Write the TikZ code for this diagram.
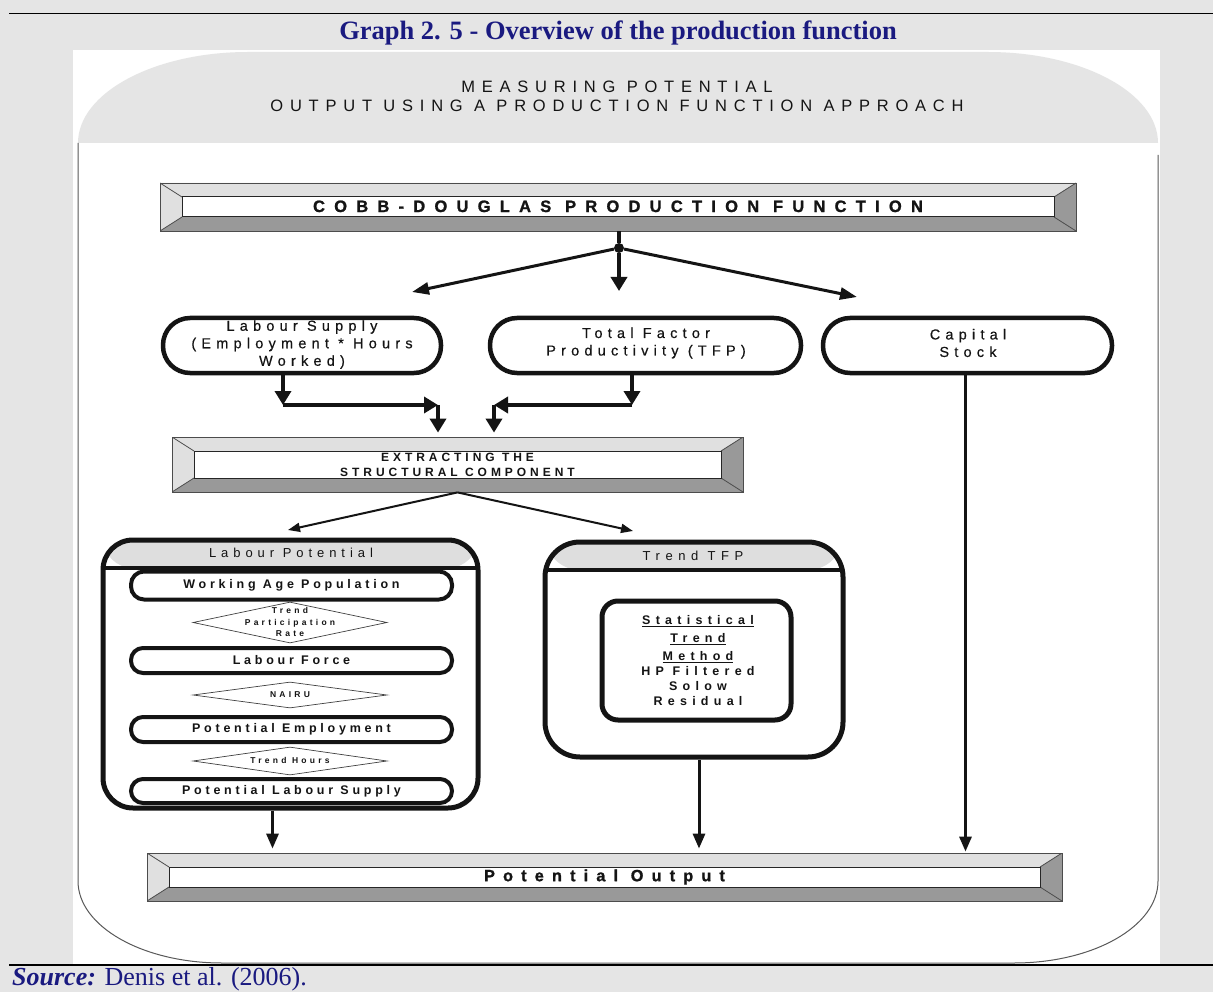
\documentclass[tikz,border=0pt]{standalone}
\usepackage{fontspec}
\setmainfont{Liberation Serif}
\newfontfamily\nf{Liberation Sans}
\usetikzlibrary{shapes.geometric,arrows.meta,calc}
\definecolor{pagegray}{RGB}{229,229,229}
\definecolor{navy}{RGB}{26,26,128}
\definecolor{bevlight}{RGB}{224,224,224}
\definecolor{bevdark}{RGB}{153,153,153}
\definecolor{hdrgray}{RGB}{222,222,222}
\definecolor{ink}{RGB}{20,20,20}
\newcommand\lsfont[3]{\nf\fontsize{#1}{#2}\selectfont\addfontfeature{LetterSpace=#3}}
\tikzset{
  bevel/.style={draw=black!70, line width=0.8, fill=white, inner sep=0, text=ink,
    path picture={
      \coordinate (o1) at (path picture bounding box.north west);
      \coordinate (o2) at (path picture bounding box.north east);
      \coordinate (o3) at (path picture bounding box.south east);
      \coordinate (o4) at (path picture bounding box.south west);
      \coordinate (i1) at ($(o1)+(22,14)$);
      \coordinate (i2) at ($(o2)+(-22,14)$);
      \coordinate (i3) at ($(o3)+(-22,-14)$);
      \coordinate (i4) at ($(o4)+(22,-14)$);
      \fill[bevlight] (o1)--(o2)--(i2)--(i1)--cycle;
      \fill[bevlight] (o1)--(i1)--(i4)--(o4)--cycle;
      \fill[bevdark] (o2)--(o3)--(i3)--(i2)--cycle;
      \fill[bevdark] (o4)--(i4)--(i3)--(o3)--cycle;
      \draw[black!70, line width=0.8] (o1)--(i1) (o2)--(i2) (o3)--(i3) (o4)--(i4);
      \draw[black!85, line width=1] (i1) rectangle (i3);
    }},
  stad/.style={draw=ink, line width=4.5, rounded corners=#1, fill=white, inner sep=0, align=center, text=ink},
  cont/.style={draw=ink, line width=5, rounded corners=#1, fill=white, inner sep=0,
    path picture={
      \fill[hdrgray] (path picture bounding box.north west) rectangle ($(path picture bounding box.north east)+(0,28)$);
      \draw[ink, line width=3.5] ($(path picture bounding box.north west)+(0,28)$) -- ($(path picture bounding box.north east)+(0,28)$);
    }},
  diam/.style={diamond, draw=black!75, line width=0.7, fill=white, inner sep=0, aspect=6},
  lbl/.style={font=\lsfont{14.5}{17.5}{36}\addfontfeature{FakeBold=0.4}, align=center, text=ink, inner sep=0},
  inlbl/.style={font=\lsfont{12.5}{15}{30}\bfseries, align=center, text=ink, inner sep=0},
  dtxt/.style={font=\lsfont{8.5}{11.5}{38}\bfseries, align=center, text=ink, inner sep=0},
  thk/.style={draw=ink, line width=4, -{Triangle[length=14pt,width=16pt]}},
  med/.style={draw=ink, line width=3, -{Triangle[length=17pt,width=12pt]}},
  thn/.style={draw=ink, line width=2, -{Triangle[length=12pt,width=9pt]}},
  po/.style={draw=ink, line width=3, -{Triangle[length=15pt,width=12pt]}},
}
\begin{document}
\begin{tikzpicture}[x=1pt,y=-1pt]
\useasboundingbox (0,0) rectangle (1213,992);
% page frame
\fill[pagegray] (0,0) rectangle (1213,992);
\fill[white] (73,50) rectangle (1160,965);
\fill[pagegray] (78,143) .. controls (78,92.8) and (154.2,52) .. (248,52) -- (988,52) .. controls (1081.8,52) and (1158,92.8) .. (1158,143) -- cycle;
\draw[black!65, line width=1] (78,143) -- (78,881) .. controls (78,926.3) and (142.5,963) .. (222,963) -- (1014,963) .. controls (1093.5,963) and (1158,926.3) .. (1158,881) -- (1158,155);
\draw[black, line width=1.3] (9,13.5) -- (1213,13.5);
\draw[black, line width=1.3] (9,965) -- (1213,965);
\node[font=\bfseries\fontsize{26.5}{30}\selectfont, text=navy, inner sep=0] (title) at (618,33) {Graph 2. 5 - Overview of the production function};
\node[anchor=base west, text=navy, font=\fontsize{26}{30}\selectfont, inner sep=0] (src) at (12,985) {\textbf{\textit{Source:}} Denis et al. (2006).};
\node[font=\lsfont{16.5}{19}{41}, align=center, text=ink, inner sep=0] (head) at (617,96.5) {MEASURING POTENTIAL\\OUTPUT USING A PRODUCTION FUNCTION APPROACH};

% top box
\node[bevel, minimum width=916, minimum height=48, font=\lsfont{16.5}{20}{56}\bfseries\addfontfeature{FakeBold=1.2}] (cobb) at (618,207) {\raisebox{1.5pt}{COBB-DOUGLAS PRODUCTION FUNCTION}};
\node[circle, fill=ink, inner sep=0, minimum size=10] (sp) at (619,248) {};
\draw[ink, line width=3.5] (cobb.south -| sp) -- (sp);
\coordinate (tLS) at (412,292);
\coordinate (tTFP) at (619,291);
\coordinate (tCS) at (857,297);
\draw[med] (sp) -- (tLS);
\draw[thk] (sp) -- (tTFP);
\draw[med] (sp) -- (tCS);

% three factors
\node[stad=27, minimum width=278, minimum height=55] (ls) at (302,345.5) {};
\node[lbl] (lst) at (302,344.5) {Labour Supply\\(Employment * Hours\\Worked)};
\node[stad=27, minimum width=311, minimum height=55] (tfp) at (645.5,345.5) {};
\node[lbl] (tfpt) at (646,343) {Total Factor\\Productivity (TFP)};
\node[stad=27, minimum width=289, minimum height=55] (cs) at (967.5,345.5) {};
\node[lbl] (cst) at (968,343) {Capital\\Stock};

% extracting
\node[bevel, minimum width=571, minimum height=55, font=\lsfont{12}{15}{33}\bfseries, align=center] (ext) at (457.5,464.5) {EXTRACTING THE\\STRUCTURAL COMPONENT};
\coordinate (ja) at (283,405);
\coordinate (jb) at (438,405);
\coordinate (jc) at (632,405);
\coordinate (jd) at (494,405);
\draw[thk] (ls.south -| ja) -- (ja);
\draw[thk] (ja) -- (jb);
\draw[thk, shorten >=4] (jb) -- (ext.north -| jb);
\draw[thk] (tfp.south -| jc) -- (jc);
\draw[thk] (jc) -- (jd);
\draw[thk, shorten >=4] (jd) -- (ext.north -| jd);
\coordinate (tLP) at (288,530);
\coordinate (tTT) at (633,531);
\draw[thn] (ext.south) -- (tLP);
\draw[thn] (ext.south) -- (tTT);

% labour potential
\node[cont=30, minimum width=375, minimum height=268] (lp) at (290.5,674) {};
\node[font=\lsfont{13}{16}{38}, text=ink, inner sep=0] (lph) at (291,553) {Labour Potential};
\node[diam, minimum width=194, minimum height=41] (d1) at (290,622.5) {};
\node[dtxt] (d1t) at (290,622) {Trend\\Participation\\Rate};
\node[diam, minimum width=194, minimum height=26] (d2) at (290,695) {};
\node[dtxt] (d2t) at (290,695) {NAIRU};
\node[diam, minimum width=194, minimum height=28] (d3) at (290,761) {};
\node[dtxt] (d3t) at (290,760) {Trend Hours};
\node[stad=13, line width=4, minimum width=321, minimum height=28, inlbl] (wap) at (291.5,585.5) {Working Age Population};
\node[stad=12, line width=4, minimum width=321, minimum height=25, inlbl] (lf) at (291.5,660.5) {Labour Force};
\node[stad=12, line width=4, minimum width=321, minimum height=25, inlbl] (pe) at (291.5,729.5) {Potential Employment};
\node[stad=12, line width=4, minimum width=321, minimum height=24, inlbl] (pls) at (291.5,791) {Potential Labour Supply};

% trend tfp
\node[cont=35, minimum width=298, minimum height=215] (tt) at (694,649.5) {};
\node[font=\lsfont{13}{16}{43}, text=ink, inner sep=0] (tth) at (693,556) {Trend TFP};
\node[draw=ink, line width=5, rounded corners=16, fill=white, minimum width=189, minimum height=119, inner sep=0] (stm) at (696.5,660.5) {};
\node[font=\lsfont{12.5}{15}{42}\bfseries, align=center, text=ink, inner sep=0] (stmt) at (698,661) {\underline{Statistical}\\[3pt]\underline{Trend}\\[3pt]\underline{Method}\\HP Filtered\\Solow\\Residual};

% potential output
\node[bevel, minimum width=915, minimum height=48, font=\lsfont{16.3}{18}{50}\bfseries\addfontfeature{FakeBold=1.2}] (po) at (604.5,877) {Potential Output};
\draw[po, shorten >=4] ([xshift=-18]lp.south) -- ([xshift=-18]lp.south |- po.north);
\draw[po, shorten >=4] ([xshift=5]tt.south) -- ([xshift=5]tt.south |- po.north);
\draw[po, shorten >=1] ([xshift=-2]cs.south) -- ([xshift=-2]cs.south |- po.north);
\end{tikzpicture}
\end{document}
